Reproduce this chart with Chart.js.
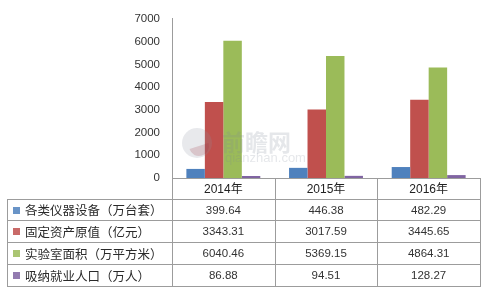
<!DOCTYPE html>
<html>
<head>
<meta charset="utf-8">
<script src="https://cdn.jsdelivr.net/npm/chart.js@4/dist/chart.umd.min.js"></script>
<style>
html,body{margin:0;padding:0;background:#fff;}
canvas{display:block;}
</style>
</head>
<body>
<canvas id="c" width="486" height="293"></canvas>
<script>
const categories = ['2014年', '2015年', '2016年'];
const seriesNames = ['各类仪器设备（万台套）', '固定资产原值（亿元）', '实验室面积（万平方米）', '吸纳就业人口（万人）'];
const instruments = [399.64, 446.38, 482.29];
const fixedAssets = [3343.31, 3017.59, 3445.65];
const labArea = [6040.46, 5369.15, 4864.31];
const employment = [86.88, 94.51, 128.27];
const valueLabels = [
  ['399.64', '446.38', '482.29'],
  ['3343.31', '3017.59', '3445.65'],
  ['6040.46', '5369.15', '4864.31'],
  ['86.88', '94.51', '128.27']
];
const yTicks = [0, 1000, 2000, 3000, 4000, 5000, 6000, 7000];
const watermark = ['前瞻网', 'qianzhan.com'];

const colors = ['#4F81BD', '#C0504D', '#9BBB59', '#8064A2'];
const seriesValues = [instruments, fixedAssets, labArea, employment];

const FONT = '"Liberation Sans", "Noto Sans CJK SC", sans-serif';
const CJK = '"Noto Sans CJK SC", "Liberation Sans", sans-serif';

const tablePlugin = {
  id: 'dataTable',
  afterDatasetsDraw(chart) {
    const ctx = chart.ctx;
    // faint watermark
    ctx.save();
    ctx.globalAlpha = 0.2;
    ctx.fillStyle = '#8a8fa0';
    ctx.beginPath();
    ctx.arc(197, 143, 15, 0, Math.PI * 2);
    ctx.fill();
    ctx.fillStyle = '#9a3040';
    ctx.beginPath();
    ctx.arc(199, 146, 10, -0.3, Math.PI * 0.9);
    ctx.fill();
    ctx.fillStyle = '#7d8595';
    ctx.font = 'bold 23px ' + CJK;
    ctx.textBaseline = 'alphabetic';
    ctx.textAlign = 'left';
    ctx.fillText(watermark[0], 222, 151);
    ctx.font = '13px ' + FONT;
    ctx.fillText(watermark[1], 225, 162);
    ctx.restore();
  },
  afterDraw(chart) {
    const ctx = chart.ctx;
    const x = chart.scales.x;
    const area = chart.chartArea;
    const n = categories.length;
    const cw = (area.right - area.left) / n;
    const bounds = [];
    for (let i = 0; i <= n; i++) bounds.push(Math.round(area.left + cw * i));
    const top = Math.round(area.bottom);
    const rows = [199, 220, 242, 264, 286];
    const tableLeft = 7;
    ctx.save();
    ctx.strokeStyle = '#9c9c9c';
    ctx.lineWidth = 1;
    ctx.beginPath();
    ctx.moveTo(bounds[0], top + 0.5);
    ctx.lineTo(bounds[n], top + 0.5);
    rows.forEach(r => { ctx.moveTo(tableLeft, r + 0.5); ctx.lineTo(bounds[n], r + 0.5); });
    bounds.forEach(b => { ctx.moveTo(b + 0.5, top); ctx.lineTo(b + 0.5, rows[rows.length - 1] + 1); });
    ctx.moveTo(tableLeft + 0.5, rows[0]);
    ctx.lineTo(tableLeft + 0.5, rows[rows.length - 1] + 1);
    ctx.stroke();

    ctx.fillStyle = '#222';
    ctx.textAlign = 'center';
    ctx.textBaseline = 'middle';
    ctx.font = '12px ' + FONT;
    categories.forEach((c, i) => {
      ctx.fillText(c, x.getPixelForValue(i), (top + rows[0]) / 2 + 1);
    });

    for (let s = 0; s < seriesNames.length; s++) {
      const yc = (rows[s] + rows[s + 1]) / 2 + 1;
      ctx.fillStyle = colors[s];
      ctx.globalAlpha = 0.85;
      ctx.fillRect(13, Math.round(yc - 4), 7, 7);
      ctx.globalAlpha = 1;
      ctx.fillStyle = '#2a2a2a';
      ctx.textAlign = 'left';
      ctx.font = '12.5px ' + CJK;
      ctx.fillText(seriesNames[s], 25, yc);
      ctx.fillStyle = '#333';
      ctx.textAlign = 'center';
      ctx.font = '11.5px ' + FONT;
      for (let i = 0; i < n; i++) {
        ctx.fillText(valueLabels[s][i], x.getPixelForValue(i), yc);
      }
    }
    ctx.restore();
  }
};

new Chart(document.getElementById('c'), {
  type: 'bar',
  data: {
    labels: categories,
    datasets: seriesNames.map((name, i) => ({
      label: name,
      data: seriesValues[i],
      backgroundColor: colors[i],
      borderWidth: 0,
      categoryPercentage: 0.72,
      barPercentage: 1.0
    }))
  },
  options: {
    responsive: false,
    animation: false,
    devicePixelRatio: 1,
    layout: { padding: { top: 11, left: 0, right: 6, bottom: 115 } },
    plugins: { legend: { display: false }, tooltip: { enabled: false } },
    scales: {
      x: {
        display: false,
        offset: true
      },
      y: {
        min: 0,
        max: 7000,
        afterFit(scale) { scale.width = 172; },
        afterBuildTicks(scale) { scale.ticks = yTicks.map(v => ({ value: v })); },
        grid: { display: false, drawTicks: false, tickLength: 0 },
        border: { display: true, color: '#9c9c9c', width: 1 },
        ticks: {
          padding: 12,
          color: '#333',
          font: { family: FONT, size: 11.5 },
          callback: v => String(v)
        }
      }
    }
  },
  plugins: [tablePlugin]
});
</script>
</body>
</html>
